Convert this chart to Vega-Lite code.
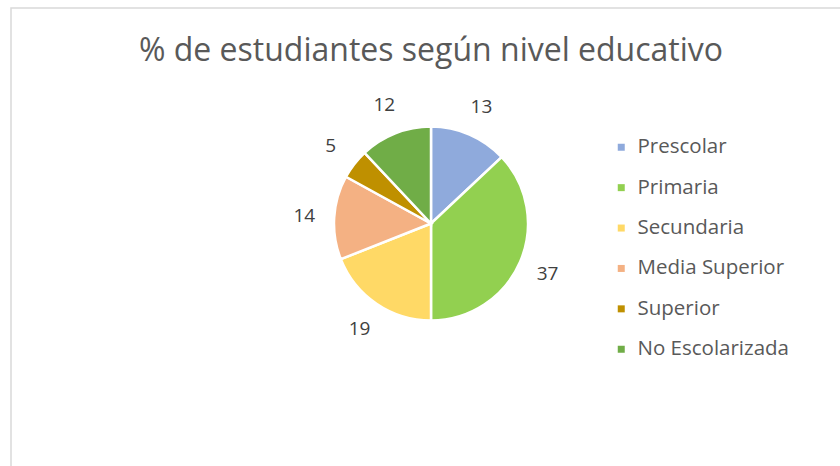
{
  "$schema": "https://vega.github.io/schema/vega-lite/v6.json",
  "width": 840,
  "height": 466,
  "autosize": {"type": "none"},
  "padding": {"left": 11, "top": 8, "right": 0, "bottom": 0},
  "background": "white",
  "config": {
    "view": {"stroke": "#d9d9d9", "strokeWidth": 1.5},
    "font": "Open Sans"
  },
  "title": {
    "text": "% de estudiantes según nivel educativo",
    "font": "Open Sans",
    "fontSize": 32,
    "fontWeight": "normal",
    "color": "#595959",
    "anchor": "middle",
    "baseline": "alphabetic",
    "offset": -86
  },
  "datasets": {
    "niveles": [
      {"nivel": "Prescolar", "valor": 13, "orden": 1},
      {"nivel": "Primaria", "valor": 37, "orden": 2},
      {"nivel": "Secundaria", "valor": 19, "orden": 3},
      {"nivel": "Media Superior", "valor": 14, "orden": 4},
      {"nivel": "Superior", "valor": 5, "orden": 5},
      {"nivel": "No Escolarizada", "valor": 12, "orden": 6}
    ],
    "marco": [{"marco": "borde"}]
  },
  "layer": [
    {
      "data": {"name": "marco"},
      "mark": {"type": "rect", "fill": null, "fillOpacity": 0, "stroke": "#d9d9d9", "strokeWidth": 1.5},
      "encoding": {}
    },
    {
      "data": {"name": "niveles"},
      "encoding": {
        "theta": {"field": "valor", "type": "quantitative", "stack": true},
        "order": {"field": "orden", "type": "quantitative", "sort": "ascending"},
        "color": {
          "field": "nivel",
          "type": "nominal",
          "scale": {
            "domain": ["Prescolar", "Primaria", "Secundaria", "Media Superior", "Superior", "No Escolarizada"],
            "range": ["#8faadc", "#92d050", "#ffd966", "#f4b183", "#bf9000", "#70ad47"]
          },
          "legend": {
            "title": null,
            "orient": "none",
            "legendX": 600,
            "legendY": 129,
            "symbolType": "square",
            "symbolSize": 49,
            "symbolStrokeWidth": 0,
            "labelFont": "Open Sans",
            "labelFontSize": 20.5,
            "labelColor": "#595959",
            "labelOffset": 6,
            "rowPadding": 19.4
          }
        }
      },
      "layer": [
        {
          "mark": {"type": "arc", "outerRadius": 97, "stroke": "white", "strokeWidth": 2.5, "yOffset": -17.5}
        },
        {
          "mark": {"type": "text", "radius": 127, "yOffset": -17.5, "font": "Open Sans", "fontSize": 19},
          "encoding": {
            "text": {"field": "valor", "type": "quantitative"},
            "color": {"value": "#404040"}
          }
        }
      ]
    }
  ]
}
